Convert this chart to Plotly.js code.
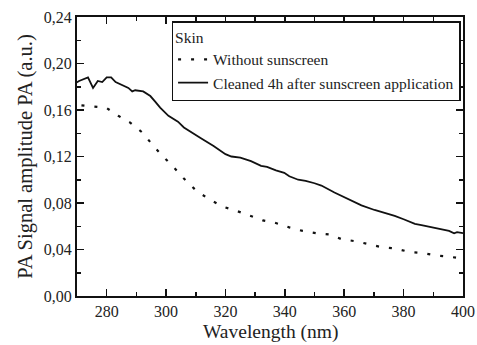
<!DOCTYPE html>
<html>
<head>
<meta charset="utf-8">
<script src="https://cdn.plot.ly/plotly-3.0.1.min.js"></script>
<style>html,body{margin:0;padding:0;background:#fff}#chart{width:477px;height:345px}</style>
</head>
<body>
<div id="chart"></div>
<script>
const wlWithout = [271.5, 275, 279.8, 283.9, 288, 292.3, 295.4, 299, 302.5, 306, 310, 314, 319, 324, 328, 332.6, 336.7, 341.5, 346, 350.6, 355, 359, 364, 368.6, 372.6, 377, 381.7, 386.5, 390.5, 395, 400];
const valWithout = [0.164, 0.163, 0.162, 0.155, 0.149, 0.140, 0.130, 0.120, 0.111, 0.101, 0.091, 0.084, 0.077, 0.073, 0.069, 0.065, 0.063, 0.059, 0.056, 0.054, 0.053, 0.049, 0.047, 0.044, 0.042, 0.041, 0.038, 0.037, 0.035, 0.034, 0.032];

const wlCleaned = [269.5, 270.7, 273.7, 275.4, 277, 278.5, 280, 281.5, 283, 285.6, 287.3, 288.6, 289.6, 292.3, 294.7, 296.4, 298, 300.8, 304, 306, 308, 311.6, 316, 320, 322, 325, 328.6, 332, 334, 337, 339.8, 341.5, 344.5, 347, 350, 352.3, 356.7, 361.4, 365.8, 370.2, 373, 377, 380, 383.8, 386, 389.5, 392, 395.3, 397, 398, 400];
const valCleaned = [0.183, 0.185, 0.188, 0.179, 0.185, 0.184, 0.188, 0.188, 0.184, 0.181, 0.179, 0.176, 0.177, 0.176, 0.172, 0.167, 0.162, 0.155, 0.150, 0.145, 0.142, 0.136, 0.129, 0.122, 0.120, 0.119, 0.116, 0.112, 0.111, 0.108, 0.106, 0.103, 0.100, 0.099, 0.097, 0.095, 0.089, 0.083, 0.078, 0.074, 0.072, 0.069, 0.066, 0.062, 0.061, 0.059, 0.058, 0.056, 0.054, 0.055, 0.054];

const seriesNames = ["Without sunscreen", "Cleaned 4h after sunscreen application"];
const legendTitle = "Skin";
const xTitle = "Wavelength (nm)";
const yTitle = "PA Signal amplitude PA (a.u.)";

const font = "Liberation Serif";

const traces = [
  {x: wlWithout, y: valWithout, name: seriesNames[0], mode: "lines",
   line: {color: "#111", width: 2.2, dash: "3px,10px"}},
  {x: wlCleaned, y: valCleaned, name: seriesNames[1], mode: "lines",
   line: {color: "#111", width: 1.8}}
];

const axisCommon = {
  showline: true, linecolor: "#111", linewidth: 2, mirror: "ticks",
  ticks: "inside", ticklen: 7, tickwidth: 1.5, tickcolor: "#111",
  showgrid: false, zeroline: false,
  tickfont: {family: font, size: 16, color: "#222"}
};

const layout = {
  width: 477, height: 345,
  margin: {l: 77, r: 14, t: 17, b: 49},
  paper_bgcolor: "#fff", plot_bgcolor: "#fff",
  separators: ",.",
  font: {family: font, color: "#222"},
  showlegend: true,
  legend: {
    x: 0.245, y: 0.985, xanchor: "left", yanchor: "top",
    bordercolor: "#111", borderwidth: 1.5, bgcolor: "#fff",
    font: {family: font, size: 15.5, color: "#222"},
    title: {text: legendTitle, font: {family: font, size: 15.5, color: "#222"}, side: "top"},
    tracegroupgap: 0, itemwidth: 30
  },
  xaxis: Object.assign({}, axisCommon, {
    range: [270, 400], dtick: 20, tick0: 280,
    minor: {dtick: 10, ticks: "inside", ticklen: 4, tickwidth: 1.5, tickcolor: "#111"}
  }),
  yaxis: Object.assign({}, axisCommon, {
    range: [0, 0.24], dtick: 0.04, tickformat: ".2f",
    minor: {dtick: 0.02, ticks: "inside", ticklen: 4, tickwidth: 1.5, tickcolor: "#111"},
    title: {text: yTitle, font: {family: font, size: 20.5, color: "#222"}, standoff: 6}
  }),
  annotations: [{
    text: xTitle, xref: "paper", yref: "paper", x: 0.5, y: -0.175,
    xanchor: "center", yanchor: "bottom", showarrow: false,
    font: {family: font, size: 19.5, color: "#222"}
  }]
};

Plotly.newPlot("chart", traces, layout, {displayModeBar: false, staticPlot: true});
</script>
</body>
</html>
